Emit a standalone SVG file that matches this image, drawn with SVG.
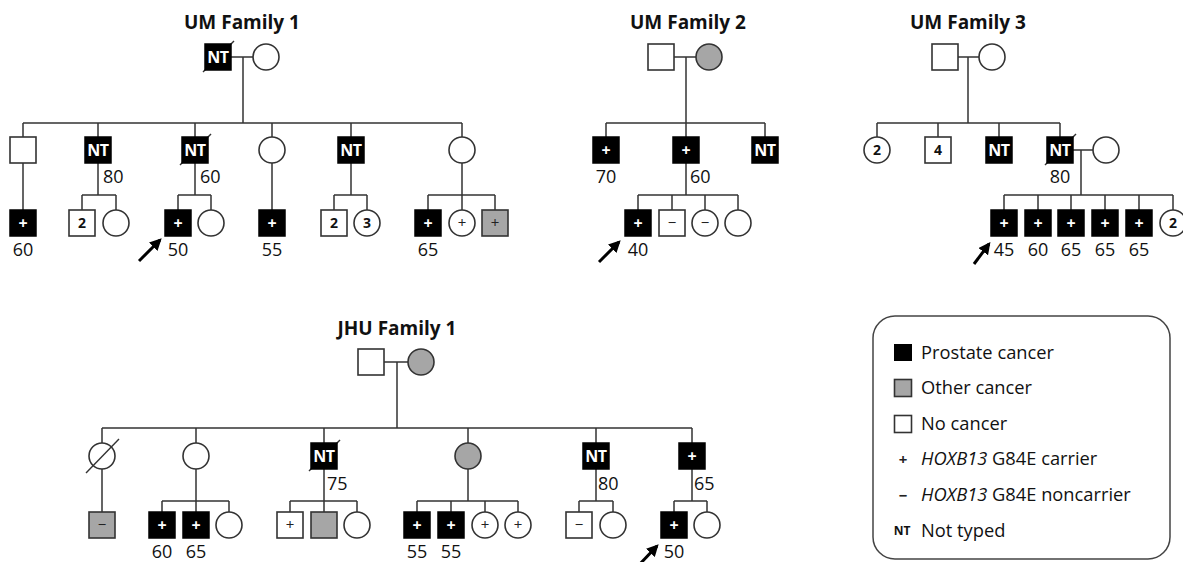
<svg xmlns="http://www.w3.org/2000/svg" width="1183" height="562" viewBox="0 0 1183 562">
<style>
.ln{stroke:#333;stroke-width:1.5;fill:none}
.w{fill:#fff;stroke:#333;stroke-width:1.6}
.b{fill:#000;stroke:#000;stroke-width:1.5}
.g{fill:#a6a6a6;stroke:#333;stroke-width:1.6}
.sl{stroke:#333;stroke-width:1.4}
.ar{stroke:#000;stroke-width:3;fill:none}
.nt{font-family:'Open Sans',sans-serif;font-weight:bold;font-size:16px;fill:#fff;text-anchor:middle;letter-spacing:-0.5px}
.pw{font-family:'Open Sans',sans-serif;font-weight:bold;font-size:16px;fill:#fff;text-anchor:middle}
.pk{font-family:'Open Sans',sans-serif;font-size:15px;fill:#222;text-anchor:middle}
.num{font-family:'Open Sans',sans-serif;font-weight:bold;font-size:14px;fill:#111;text-anchor:middle}
.age{font-family:'Open Sans',sans-serif;font-size:18px;fill:#111}
.c{text-anchor:middle}
.title{font-family:'Open Sans',sans-serif;font-weight:bold;font-size:19px;fill:#111;text-anchor:middle}
.leg{font-family:'Open Sans',sans-serif;font-size:18.3px;fill:#111}
</style>
<defs>
<marker id="ah" viewBox="0 0 10 10" refX="8" refY="5" markerWidth="12" markerHeight="12" markerUnits="userSpaceOnUse" orient="auto">
<path d="M0,0 L10,5 L0,10 z" fill="#000"/>
</marker>
</defs>

<!-- titles -->
<text class="title" x="242" y="29">UM Family 1</text>
<text class="title" x="688" y="29">UM Family 2</text>
<text class="title" x="968" y="29">UM Family 3</text>
<text class="title" x="397" y="335">JHU Family 1</text>

<g id="connectors">
<!-- UM Family 1 -->
<path class="ln" d="M231,57 H253 M243,57 V123 M23,123 H462 M23,123 V137 M98,123 V137 M195,123 V137 M272,123 V137 M351,123 V137 M462,123 V137
M23,163 V210 M98,163 V195 M82,195 H116 M82,195 V210 M116,195 V210
M195,163 V195 M178,195 H211 M178,195 V210 M211,195 V210
M272,163 V210
M351,163 V195 M334,195 H367 M334,195 V210 M367,195 V210
M462,163 V210 M428,195 H495 M428,195 V210 M495,195 V210"/>
<!-- UM Family 2 -->
<path class="ln" d="M674,57 H696 M686,57 V123 M606,123 H765 M606,123 V137 M686,123 V137 M765,123 V137
M686,163 V195 M638,195 H738 M638,195 V210 M672,195 V210 M705,195 V210 M738,195 V210"/>
<!-- UM Family 3 -->
<path class="ln" d="M958,57 H979 M968,57 V123 M877,123 H1060 M877,123 V137 M938,123 V137 M999,123 V137 M1060,123 V137
M1073,150 H1093 M1081,150 V195 M1004,195 H1173 M1004,195 V210 M1038,195 V210 M1071,195 V210 M1105,195 V210 M1139,195 V210 M1173,195 V210"/>
<!-- JHU Family 1 -->
<path class="ln" d="M384,362 H408 M397,362 V428 M102,428 H692 M102,428 V443 M196,428 V443 M324,428 V443 M468,428 V443 M596,428 V443 M692,428 V443
M102,469 V512
M196,469 V512 M162,501 H229 M162,501 V512 M229,501 V512
M324,469 V512 M290,501 H357 M290,501 V512 M357,501 V512
M468,469 V501 M417,501 H518 M417,501 V512 M451,501 V512 M485,501 V512 M518,501 V512
M596,469 V501 M579,501 H613 M579,501 V512 M613,501 V512
M692,469 V501 M674,501 H707 M674,501 V512 M707,501 V512"/>
<!-- proband arrows -->
<line class="ar" x1="139" y1="261" x2="160" y2="240" marker-end="url(#ah)"/>
<line class="ar" x1="599" y1="262" x2="619" y2="242" marker-end="url(#ah)"/>
<line class="ar" x1="974" y1="264" x2="989" y2="244" marker-end="url(#ah)"/>
<line class="ar" x1="638" y1="566" x2="657" y2="546" marker-end="url(#ah)"/>
</g>

<!-- ===== UM Family 1 ===== -->
<g id="f1-father"><line class="sl" x1="203" y1="72" x2="234" y2="41"/><rect class="b" x="205" y="44" width="26" height="26"/><text class="nt" x="218" y="62.5">NT</text></g>
<g id="f1-mother"><circle class="w" cx="266" cy="57" r="13"/></g>
<g id="f1-c1"><rect class="w" x="10" y="137" width="26" height="26"/></g>
<g id="f1-c2"><rect class="b" x="85" y="137" width="26" height="26"/><text class="nt" x="98" y="155.5">NT</text><text class="age" x="103" y="183">80</text></g>
<g id="f1-c3"><line class="sl" x1="180" y1="165" x2="211" y2="134"/><rect class="b" x="182" y="137" width="26" height="26"/><text class="nt" x="195" y="155.5">NT</text><text class="age" x="200" y="183">60</text></g>
<g id="f1-c4"><circle class="w" cx="272" cy="150" r="13"/></g>
<g id="f1-c5"><rect class="b" x="338" y="137" width="26" height="26"/><text class="nt" x="351" y="155.5">NT</text></g>
<g id="f1-c6"><circle class="w" cx="462" cy="150" r="13"/></g>
<g id="f1-g1"><rect class="b" x="10" y="210" width="26" height="26"/><text class="pw" x="23" y="228.5">+</text><text class="age c" x="23" y="256">60</text></g>
<g id="f1-g2"><rect class="w" x="69" y="210" width="26" height="26"/><text class="num" x="82" y="228">2</text></g>
<g id="f1-g3"><circle class="w" cx="116" cy="223" r="13"/></g>
<g id="f1-g4"><rect class="b" x="165" y="210" width="26" height="26"/><text class="pw" x="178" y="228.5">+</text><text class="age c" x="178" y="256">50</text></g>
<g id="f1-g5"><circle class="w" cx="211" cy="223" r="13"/></g>
<g id="f1-g6"><rect class="b" x="259" y="210" width="26" height="26"/><text class="pw" x="272" y="228.5">+</text><text class="age c" x="272" y="256">55</text></g>
<g id="f1-g7"><rect class="w" x="321" y="210" width="26" height="26"/><text class="num" x="334" y="228">2</text></g>
<g id="f1-g8"><circle class="w" cx="367" cy="223" r="13"/><text class="num" x="367" y="228">3</text></g>
<g id="f1-g9"><rect class="b" x="415" y="210" width="26" height="26"/><text class="pw" x="428" y="228.5">+</text><text class="age c" x="428" y="256">65</text></g>
<g id="f1-g10"><circle class="w" cx="462" cy="223" r="13"/><text class="pk" x="462" y="228">+</text></g>
<g id="f1-g11"><rect class="g" x="482" y="210" width="26" height="26"/><text class="pk" x="495" y="228">+</text></g>

<!-- ===== UM Family 2 ===== -->
<g id="f2-father"><rect class="w" x="648" y="44" width="26" height="26"/></g>
<g id="f2-mother"><circle class="g" cx="709" cy="57" r="13"/></g>
<g id="f2-c1"><rect class="b" x="593" y="137" width="26" height="26"/><text class="pw" x="606" y="155.5">+</text><text class="age c" x="606" y="183">70</text></g>
<g id="f2-c2"><rect class="b" x="673" y="137" width="26" height="26"/><text class="pw" x="686" y="155.5">+</text><text class="age" x="690" y="183">60</text></g>
<g id="f2-c3"><rect class="b" x="752" y="137" width="26" height="26"/><text class="nt" x="765" y="155.5">NT</text></g>
<g id="f2-g1"><rect class="b" x="625" y="210" width="26" height="26"/><text class="pw" x="638" y="228.5">+</text><text class="age c" x="638" y="256">40</text></g>
<g id="f2-g2"><rect class="w" x="659" y="210" width="26" height="26"/><text class="pk" x="672" y="228" fill="#555">−</text></g>
<g id="f2-g3"><circle class="w" cx="705" cy="223" r="13"/><text class="pk" x="705" y="228" fill="#555">−</text></g>
<g id="f2-g4"><circle class="w" cx="738" cy="223" r="13"/></g>

<!-- ===== UM Family 3 ===== -->
<g id="f3-father"><rect class="w" x="932" y="44" width="26" height="26"/></g>
<g id="f3-mother"><circle class="w" cx="992" cy="57" r="13"/></g>
<g id="f3-c1"><circle class="w" cx="877" cy="150" r="13"/><text class="num" x="877" y="155">2</text></g>
<g id="f3-c2"><rect class="w" x="925" y="137" width="26" height="26"/><text class="num" x="938" y="155">4</text></g>
<g id="f3-c3"><rect class="b" x="986" y="137" width="26" height="26"/><text class="nt" x="999" y="155.5">NT</text></g>
<g id="f3-c4"><line class="sl" x1="1045" y1="165" x2="1076" y2="134"/><rect class="b" x="1047" y="137" width="26" height="26"/><text class="nt" x="1060" y="155.5">NT</text><text class="age c" x="1060" y="183">80</text></g>
<g id="f3-spouse"><circle class="w" cx="1106" cy="150" r="13"/></g>
<g id="f3-g1"><rect class="b" x="991" y="210" width="26" height="26"/><text class="pw" x="1004" y="228.5">+</text><text class="age c" x="1004" y="256">45</text></g>
<g id="f3-g2"><rect class="b" x="1025" y="210" width="26" height="26"/><text class="pw" x="1038" y="228.5">+</text><text class="age c" x="1038" y="256">60</text></g>
<g id="f3-g3"><rect class="b" x="1058" y="210" width="26" height="26"/><text class="pw" x="1071" y="228.5">+</text><text class="age c" x="1071" y="256">65</text></g>
<g id="f3-g4"><rect class="b" x="1092" y="210" width="26" height="26"/><text class="pw" x="1105" y="228.5">+</text><text class="age c" x="1105" y="256">65</text></g>
<g id="f3-g5"><rect class="b" x="1126" y="210" width="26" height="26"/><text class="pw" x="1139" y="228.5">+</text><text class="age c" x="1139" y="256">65</text></g>
<g id="f3-g6"><circle class="w" cx="1173" cy="223" r="13"/><text class="num" x="1173" y="228">2</text></g>

<!-- ===== JHU Family 1 ===== -->
<g id="j-father"><rect class="w" x="358" y="349" width="26" height="26"/></g>
<g id="j-mother"><circle class="g" cx="421" cy="362" r="13"/></g>
<g id="j-c1"><circle class="w" cx="102" cy="456" r="13"/><line class="sl" x1="86" y1="473" x2="119" y2="439"/></g>
<g id="j-c2"><circle class="w" cx="196" cy="456" r="13"/></g>
<g id="j-c3"><line class="sl" x1="309" y1="471" x2="340" y2="440"/><rect class="b" x="311" y="443" width="26" height="26"/><text class="nt" x="324" y="461.5">NT</text><text class="age" x="327" y="490">75</text></g>
<g id="j-c4"><circle class="g" cx="468" cy="456" r="13"/></g>
<g id="j-c5"><rect class="b" x="583" y="443" width="26" height="26"/><text class="nt" x="596" y="461.5">NT</text><text class="age" x="598" y="490">80</text></g>
<g id="j-c6"><rect class="b" x="679" y="443" width="26" height="26"/><text class="pw" x="692" y="461.5">+</text><text class="age" x="694" y="490">65</text></g>
<g id="j-g1"><rect class="g" x="89" y="512" width="26" height="26"/><text class="pk" x="102" y="530" fill="#333">−</text></g>
<g id="j-g2"><rect class="b" x="149" y="512" width="26" height="26"/><text class="pw" x="162" y="530.5">+</text><text class="age c" x="162" y="558">60</text></g>
<g id="j-g3"><rect class="b" x="183" y="512" width="26" height="26"/><text class="pw" x="196" y="530.5">+</text><text class="age c" x="196" y="558">65</text></g>
<g id="j-g4"><circle class="w" cx="229" cy="525" r="13"/></g>
<g id="j-g5"><rect class="w" x="277" y="512" width="26" height="26"/><text class="pk" x="290" y="530">+</text></g>
<g id="j-g6"><rect class="g" x="311" y="512" width="26" height="26"/></g>
<g id="j-g7"><circle class="w" cx="357" cy="525" r="13"/></g>
<g id="j-g8"><rect class="b" x="404" y="512" width="26" height="26"/><text class="pw" x="417" y="530.5">+</text><text class="age c" x="417" y="558">55</text></g>
<g id="j-g9"><rect class="b" x="438" y="512" width="26" height="26"/><text class="pw" x="451" y="530.5">+</text><text class="age c" x="451" y="558">55</text></g>
<g id="j-g10"><circle class="w" cx="485" cy="525" r="13"/><text class="pk" x="485" y="530">+</text></g>
<g id="j-g11"><circle class="w" cx="518" cy="525" r="13"/><text class="pk" x="518" y="530">+</text></g>
<g id="j-g12"><rect class="w" x="566" y="512" width="26" height="26"/><text class="pk" x="579" y="530" fill="#555">−</text></g>
<g id="j-g13"><circle class="w" cx="613" cy="525" r="13"/></g>
<g id="j-g14"><rect class="b" x="661" y="512" width="26" height="26"/><text class="pw" x="674" y="530.5">+</text><text class="age c" x="674" y="558">50</text></g>
<g id="j-g15"><circle class="w" cx="707" cy="525" r="13"/></g>

<!-- ===== Legend ===== -->
<g id="legend">
<rect x="873" y="316" width="297" height="243" rx="22" fill="#fff" stroke="#444" stroke-width="1.5"/>
<rect x="894" y="344" width="18" height="17" fill="#000"/>
<rect x="894.5" y="379.5" width="17" height="17" class="g"/>
<rect x="894.5" y="415.5" width="17" height="17" class="w"/>
<text class="pk" x="903" y="465" font-size="15" font-weight="bold">+</text>
<text class="pk" x="903" y="501" font-size="15" font-weight="bold">−</text>
<text x="902" y="535" font-family="'Open Sans',sans-serif" font-weight="bold" font-size="12" text-anchor="middle" fill="#111">NT</text>
<text class="leg" x="921" y="359">Prostate cancer</text>
<text class="leg" x="921" y="394">Other cancer</text>
<text class="leg" x="921" y="430">No cancer</text>
<text class="leg" x="921" y="465"><tspan font-style="italic">HOXB13</tspan> G84E carrier</text>
<text class="leg" x="921" y="501"><tspan font-style="italic">HOXB13</tspan> G84E noncarrier</text>
<text class="leg" x="921" y="537">Not typed</text>
</g>
</svg>
